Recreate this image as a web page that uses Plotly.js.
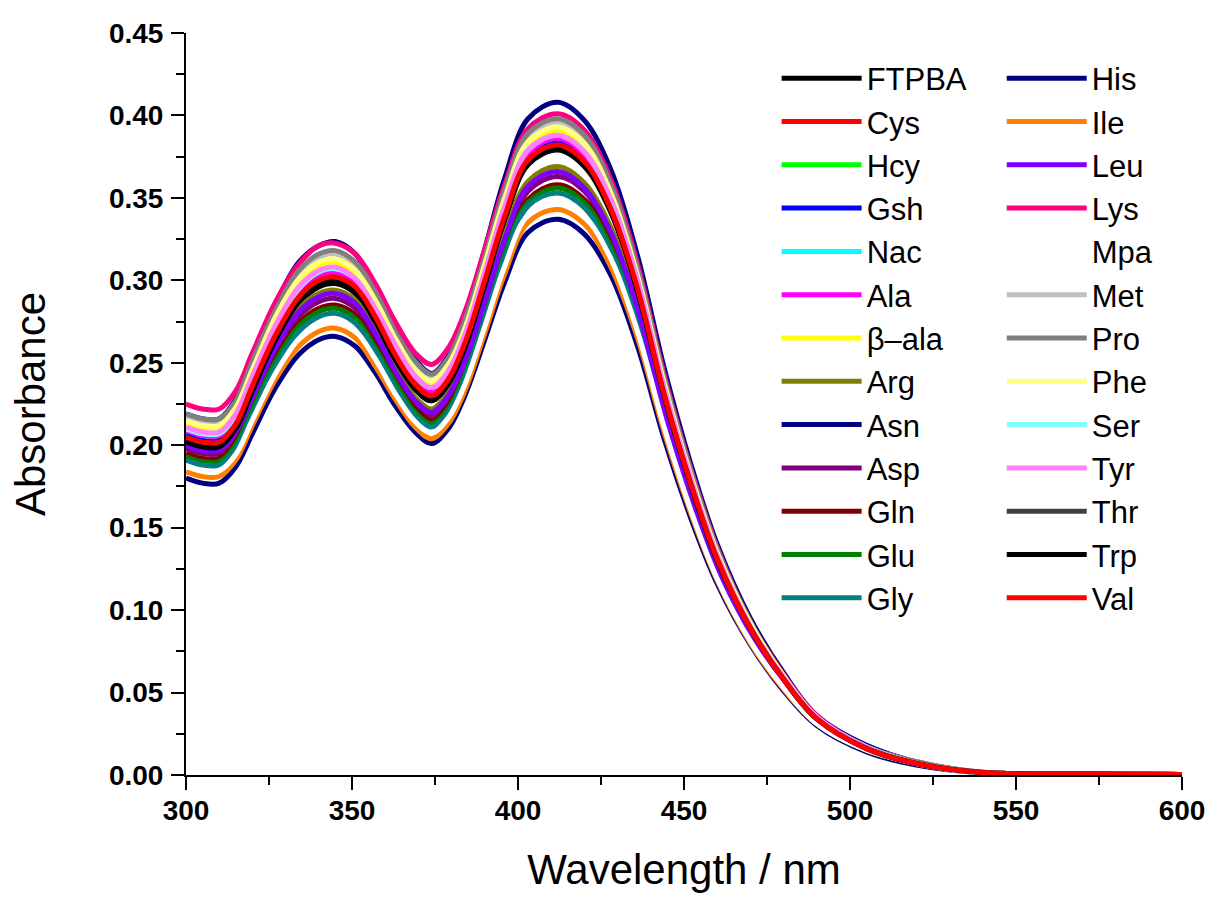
<!DOCTYPE html>
<html>
<head>
<meta charset="utf-8">
<script src="https://cdn.plot.ly/plotly-3.0.1.min.js"></script>
<style>html,body{margin:0;padding:0;background:#fff;}#chart{width:1212px;height:899px;}</style>
</head>
<body>
<div id="chart"></div>
<script>
const wavelength = [300,305,310,315,320,327,334,340,345,351,357,363,369,374,379,384,390,396,403,412,420,428,436,444,452,460,470,480,490,505,520,540,570,600];

const FTPBA = [0.202,0.199,0.199,0.210,0.233,0.263,0.286,0.296,0.298,0.292,0.274,0.252,0.234,0.227,0.237,0.259,0.297,0.336,0.370,0.379,0.369,0.341,0.293,0.229,0.176,0.130,0.088,0.058,0.034,0.016,0.007,0.0015,0.0006,0.0003];
const Cys = [0.206,0.203,0.203,0.214,0.237,0.268,0.291,0.301,0.303,0.297,0.279,0.256,0.238,0.231,0.241,0.263,0.301,0.340,0.374,0.383,0.373,0.344,0.296,0.232,0.178,0.131,0.089,0.058,0.034,0.016,0.007,0.0015,0.0006,0.0003];
const Hcy = [0.207,0.204,0.204,0.215,0.238,0.269,0.292,0.302,0.304,0.298,0.280,0.257,0.239,0.232,0.242,0.264,0.302,0.341,0.375,0.384,0.374,0.345,0.296,0.232,0.178,0.132,0.089,0.058,0.034,0.017,0.007,0.0015,0.0006,0.0003];
const Gsh = [0.206,0.203,0.203,0.214,0.237,0.267,0.290,0.300,0.302,0.296,0.278,0.256,0.238,0.231,0.241,0.263,0.301,0.341,0.375,0.384,0.374,0.345,0.296,0.232,0.178,0.132,0.089,0.058,0.034,0.017,0.007,0.0015,0.0006,0.0003];
const Nac = [0.209,0.206,0.206,0.217,0.240,0.271,0.294,0.304,0.306,0.300,0.281,0.259,0.241,0.234,0.244,0.266,0.304,0.344,0.378,0.387,0.377,0.348,0.299,0.234,0.180,0.133,0.090,0.059,0.034,0.017,0.007,0.0015,0.0006,0.0003];
const Ala = [0.209,0.206,0.206,0.217,0.240,0.270,0.293,0.303,0.305,0.299,0.280,0.258,0.240,0.233,0.243,0.265,0.303,0.343,0.377,0.386,0.376,0.347,0.298,0.234,0.179,0.132,0.090,0.059,0.034,0.017,0.007,0.0015,0.0006,0.0003];
const betaAla = [0.214,0.211,0.211,0.222,0.245,0.276,0.299,0.309,0.311,0.304,0.286,0.264,0.245,0.238,0.248,0.270,0.308,0.348,0.382,0.391,0.381,0.352,0.302,0.237,0.181,0.134,0.091,0.059,0.035,0.017,0.007,0.0015,0.0006,0.0003];
const Arg = [0.201,0.198,0.198,0.209,0.231,0.260,0.283,0.292,0.294,0.288,0.270,0.247,0.229,0.222,0.232,0.253,0.290,0.328,0.360,0.369,0.359,0.332,0.285,0.223,0.171,0.127,0.086,0.056,0.033,0.016,0.007,0.0015,0.0006,0.0003];
const Asn = [0.180,0.177,0.177,0.187,0.207,0.235,0.255,0.264,0.266,0.260,0.244,0.224,0.208,0.201,0.210,0.230,0.264,0.299,0.329,0.337,0.328,0.303,0.260,0.204,0.156,0.116,0.079,0.051,0.030,0.014,0.006,0.0013,0.0005,0.0003];
const Asp = [0.198,0.195,0.195,0.205,0.227,0.256,0.278,0.287,0.289,0.283,0.265,0.243,0.225,0.218,0.227,0.249,0.285,0.322,0.354,0.363,0.354,0.326,0.280,0.220,0.168,0.125,0.085,0.055,0.032,0.016,0.007,0.0015,0.0006,0.0003];
const Gln = [0.195,0.192,0.192,0.202,0.224,0.253,0.274,0.283,0.285,0.279,0.261,0.240,0.222,0.215,0.224,0.245,0.281,0.318,0.349,0.358,0.349,0.322,0.276,0.217,0.166,0.123,0.083,0.054,0.032,0.015,0.007,0.0014,0.0005,0.0003];
const Glu = [0.193,0.190,0.190,0.200,0.222,0.251,0.272,0.281,0.283,0.277,0.259,0.238,0.220,0.213,0.222,0.243,0.279,0.316,0.347,0.356,0.347,0.320,0.275,0.215,0.165,0.122,0.083,0.054,0.032,0.015,0.007,0.0014,0.0005,0.0003];
const Gly = [0.191,0.188,0.188,0.198,0.219,0.248,0.269,0.278,0.280,0.274,0.257,0.235,0.218,0.211,0.220,0.241,0.276,0.313,0.345,0.353,0.344,0.317,0.273,0.214,0.164,0.121,0.082,0.054,0.031,0.015,0.007,0.0014,0.0005,0.0003];
const His = [0.219,0.216,0.216,0.228,0.253,0.286,0.311,0.321,0.3235,0.316,0.296,0.272,0.252,0.2435,0.254,0.278,0.319,0.362,0.398,0.408,0.397,0.367,0.315,0.247,0.189,0.140,0.095,0.062,0.036,0.018,0.008,0.0016,0.0006,0.0003];
const Ile = [0.184,0.181,0.181,0.191,0.212,0.240,0.260,0.269,0.271,0.265,0.248,0.228,0.211,0.204,0.213,0.233,0.268,0.304,0.335,0.343,0.334,0.308,0.265,0.208,0.159,0.118,0.080,0.052,0.031,0.015,0.007,0.0014,0.0005,0.0003];
const Leu = [0.200,0.197,0.197,0.208,0.229,0.259,0.281,0.290,0.292,0.286,0.268,0.245,0.227,0.220,0.230,0.251,0.287,0.325,0.357,0.366,0.356,0.329,0.283,0.221,0.170,0.126,0.085,0.056,0.033,0.016,0.007,0.0015,0.0006,0.0003];
const Lys = [0.225,0.222,0.222,0.233,0.256,0.287,0.310,0.321,0.3225,0.316,0.298,0.275,0.256,0.249,0.259,0.281,0.319,0.358,0.392,0.401,0.391,0.361,0.310,0.243,0.186,0.138,0.093,0.061,0.036,0.017,0.008,0.0016,0.0006,0.0003];
const Mpa = [0.187,0.1845,0.1845,0.1945,0.2154,0.2437,0.2646,0.2737,0.2755,0.2694,0.2524,0.2313,0.2143,0.2075,0.2166,0.237,0.2721,0.3087,0.3396,0.348,0.339,0.313,0.269,0.211,0.161,0.119,0.081,0.053,0.031,0.015,0.007,0.0014,0.0005,0.0003];
const Met = [0.217,0.214,0.214,0.225,0.249,0.280,0.304,0.314,0.316,0.309,0.291,0.268,0.249,0.242,0.252,0.274,0.313,0.353,0.387,0.396,0.386,0.356,0.306,0.240,0.184,0.136,0.092,0.060,0.035,0.017,0.008,0.0016,0.0006,0.0003];
const Pro = [0.219,0.216,0.216,0.227,0.251,0.282,0.306,0.316,0.318,0.311,0.293,0.269,0.251,0.243,0.253,0.276,0.314,0.355,0.389,0.398,0.388,0.358,0.307,0.241,0.185,0.137,0.093,0.060,0.035,0.017,0.008,0.0016,0.0006,0.0003];
const Phe = [0.215,0.212,0.212,0.223,0.246,0.278,0.301,0.311,0.313,0.306,0.288,0.265,0.246,0.239,0.249,0.271,0.310,0.350,0.384,0.393,0.383,0.353,0.303,0.238,0.182,0.135,0.092,0.060,0.035,0.017,0.007,0.0016,0.0006,0.0003];
const Ser = [0.210,0.207,0.207,0.218,0.241,0.272,0.295,0.305,0.307,0.301,0.283,0.260,0.242,0.235,0.245,0.267,0.305,0.345,0.379,0.388,0.378,0.349,0.300,0.235,0.180,0.133,0.090,0.059,0.035,0.017,0.007,0.0015,0.0006,0.0003];
const Tyr = [0.211,0.208,0.208,0.219,0.242,0.273,0.296,0.306,0.308,0.301,0.283,0.261,0.242,0.235,0.245,0.267,0.305,0.345,0.379,0.388,0.378,0.349,0.300,0.235,0.180,0.133,0.090,0.059,0.035,0.017,0.007,0.0015,0.0006,0.0003];
const Thr = [0.203,0.200,0.200,0.211,0.234,0.265,0.288,0.298,0.300,0.294,0.276,0.253,0.235,0.228,0.238,0.260,0.298,0.338,0.372,0.381,0.371,0.343,0.294,0.231,0.177,0.131,0.089,0.058,0.034,0.016,0.007,0.0015,0.0006,0.0003];
const Trp = [0.202,0.199,0.199,0.210,0.233,0.264,0.287,0.297,0.299,0.293,0.275,0.252,0.234,0.227,0.237,0.259,0.297,0.337,0.371,0.380,0.370,0.342,0.293,0.230,0.176,0.130,0.089,0.058,0.034,0.016,0.007,0.0015,0.0006,0.0003];
const Val = [0.205,0.202,0.202,0.213,0.236,0.267,0.290,0.300,0.302,0.296,0.278,0.255,0.237,0.230,0.240,0.262,0.300,0.339,0.373,0.382,0.372,0.343,0.295,0.231,0.177,0.131,0.089,0.058,0.034,0.016,0.007,0.0015,0.0006,0.0003];

const seriesNames = ["FTPBA","Cys","Hcy","Gsh","Nac","Ala","β–ala","Arg","Asn","Asp","Gln","Glu","Gly",
                     "His","Ile","Leu","Lys","Mpa","Met","Pro","Phe","Ser","Tyr","Thr","Trp","Val"];
const seriesValues = [FTPBA,Cys,Hcy,Gsh,Nac,Ala,betaAla,Arg,Asn,Asp,Gln,Glu,Gly,
                      His,Ile,Leu,Lys,Mpa,Met,Pro,Phe,Ser,Tyr,Thr,Trp,Val];
const seriesColors = ["#000000","#FF0000","#00FF00","#0000FF","#00FFFF","#FF00FF","#FFFF00","#808000","#000080","#800080","#800000","#008000","#008080",
                      "#000080","#FF8000","#8000FF","#FF0080","#FFFFFF","#C0C0C0","#808080","#FFFF80","#80FFFF","#FF80FF","#404040","#000000","#FF0000"];

const traces = seriesNames.map((n, i) => ({
  type: 'scatter',
  mode: 'lines',
  name: n,
  x: wavelength,
  y: seriesValues[i],
  line: {color: seriesColors[i], width: 5, shape: 'spline', smoothing: 1},
  legend: i < 13 ? 'legend' : 'legend2',
  hoverinfo: 'x+y+name'
}));

const tickFont = {family: 'Liberation Sans, Arial, sans-serif', size: 28, color: '#000', weight: 'bold'};
const legendFont = {family: 'Liberation Sans, Arial, sans-serif', size: 31, color: '#000'};

const layout = {
  width: 1212,
  height: 899,
  margin: {l: 186, r: 30, t: 33, b: 124},
  paper_bgcolor: '#fff',
  plot_bgcolor: '#fff',
  showlegend: true,
  xaxis: {
    range: [300, 600],
    dtick: 50,
    tick0: 300,
    showgrid: false,
    zeroline: false,
    showline: true,
    linecolor: '#000',
    linewidth: 2,
    ticks: 'outside',
    ticklen: 13,
    tickwidth: 2,
    tickcolor: '#000',
    ticklabelstandoff: -4,
    minor: {dtick: 25, ticks: 'outside', ticklen: 8, tickwidth: 2, tickcolor: '#000', showgrid: false},
    tickfont: tickFont,
    title: {text: 'Wavelength / nm', font: {family: 'Liberation Sans, Arial, sans-serif', size: 42, color: '#000'}, standoff: 30},
    automargin: false
  },
  yaxis: {
    range: [0, 0.45],
    dtick: 0.05,
    tick0: 0,
    tickformat: '.2f',
    showgrid: false,
    zeroline: false,
    showline: true,
    linecolor: '#000',
    linewidth: 2,
    ticks: 'outside',
    ticklen: 13,
    tickwidth: 2,
    tickcolor: '#000',
    ticklabelstandoff: 2,
    minor: {dtick: 0.025, ticks: 'outside', ticklen: 8, tickwidth: 2, tickcolor: '#000', showgrid: false},
    tickfont: tickFont,
    title: {text: 'Absorbance', font: {family: 'Liberation Sans, Arial, sans-serif', size: 42, color: '#000'}, standoff: 50},
    automargin: false
  },
  legend: {
    x: 0.593, y: 0.975, xanchor: 'left', yanchor: 'top',
    bgcolor: 'rgba(0,0,0,0)', borderwidth: 0,
    font: legendFont, itemwidth: 80, traceorder: 'normal'
  },
  legend2: {
    x: 0.819, y: 0.975, xanchor: 'left', yanchor: 'top',
    bgcolor: 'rgba(0,0,0,0)', borderwidth: 0,
    font: legendFont, itemwidth: 80, traceorder: 'normal'
  }
};

Plotly.newPlot('chart', traces, layout, {displayModeBar: false, staticPlot: true});
</script>
</body>
</html>
